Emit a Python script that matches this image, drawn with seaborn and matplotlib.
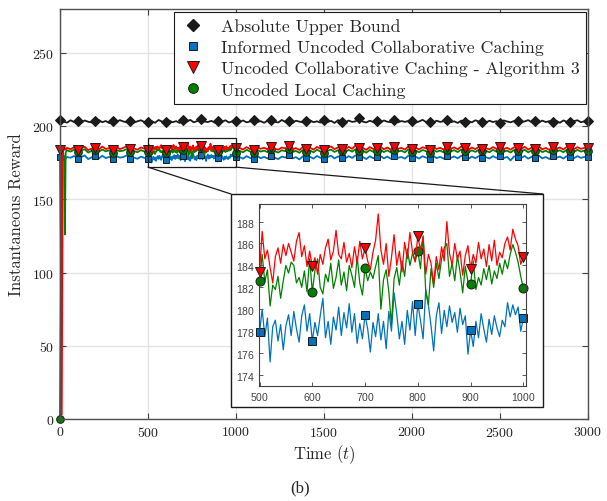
import numpy as np
import pandas as pd
import seaborn as sns
import matplotlib.pyplot as plt
from matplotlib.lines import Line2D
from matplotlib.patches import Rectangle, ConnectionPatch

# time grids (denser inside the zoomed window 500-1000)
t_head = [0, 5, 10, 16, 24, 28, 32, 40]
t_early = list(range(60, 481, 20))
t_zoom = list(range(500, 1001, 5))
t_late = list(range(1020, 3001, 20))
t_bound = list(range(0, 3001, 20))

labels = ['Absolute Upper Bound',
          'Informed Uncoded Collaborative Caching',
          'Uncoded Collaborative Caching - Algorithm 3',
          'Uncoded Local Caching']

# absolute upper bound, every 20 steps
bound = [204.5, 203.1, 202.4, 204.0, 202.8, 203.6, 202.2, 203.9, 203.0, 202.5,
         203.4, 204.2, 202.7, 203.5, 202.1, 203.8, 202.9, 204.1, 203.2, 202.6,
         203.7, 202.4, 203.3, 204.0, 202.8, 202.9, 203.5, 202.3, 204.2, 203.1,
         202.5, 203.8, 202.7, 203.4, 202.2, 203.9, 203.0, 204.3, 202.6, 203.5,
         204.6, 203.2, 202.8, 203.6, 202.4, 203.7, 202.9, 204.0, 202.5, 203.3,
         203.5, 202.7, 203.9, 202.6, 203.2, 204.1, 202.8, 203.4, 202.3, 203.8,
         203.9, 203.0, 202.5, 204.2, 202.9, 203.4, 202.1, 203.7, 203.1, 202.6,
         203.5, 204.0, 202.7, 203.3, 202.4, 203.9, 202.8, 203.6, 202.2, 204.1,
         203.0, 202.6, 203.8, 202.9, 203.3, 205.5, 203.1, 202.5, 203.7, 202.8,
         203.4, 202.3, 203.9, 203.0, 202.7, 204.2, 202.6, 203.5, 202.9, 203.6,
         203.8, 202.4, 203.2, 204.3, 202.8, 203.0, 202.5, 203.7, 202.9, 203.4,
         204.4, 202.7, 203.3, 202.2, 203.8, 202.9, 203.5, 202.6, 204.0, 203.1,
         203.0, 202.5, 203.7, 202.8, 203.4, 202.1, 203.9, 203.2, 202.6, 203.5,
         203.6, 202.9, 203.2, 204.1, 202.7, 203.3, 202.4, 203.8, 202.8, 203.4,
         202.9, 203.6, 202.3, 203.9, 203.0, 202.6, 203.5, 204.0, 202.7, 203.3,
         203.4]

# start-up transient
blue_head = [178.7, 178.0, 177.5, 179.0, 178.2, 179.5, 177.8, 178.9]
red_head = [183.4, 90.0, 3.0, 183.5, 183.8, 185.0, 184.0, 185.2]
green_head = [0.0, 118.0, 181.0, 183.0, 176.0, 126.0, 182.0, 183.5]

# 60..480
blue_early = [178.4, 179.6, 177.9, 178.9, 180.0, 177.5, 178.7, 179.3, 177.8, 179.8, 178.2,
              179.0, 177.4, 179.5, 178.5, 178.9, 180.1, 177.9, 178.6, 177.7, 179.2, 178.3]
red_early = [184.2, 185.6, 183.8, 184.9, 185.9, 183.6, 184.7, 185.3, 184.0, 186.1, 184.4,
             185.0, 183.7, 185.8, 184.3, 185.2, 186.3, 184.1, 184.8, 183.9, 185.5, 184.6]
green_early = [182.6, 183.9, 182.3, 183.4, 184.2, 182.0, 183.1, 183.8, 182.5, 184.0, 182.8,
               183.5, 181.9, 183.7, 182.9, 183.3, 184.4, 182.4, 183.0, 182.2, 183.6, 182.7]

# 500..1000 every 5 (zoomed window)
red_zoom = [183.4, 187.1, 184.6, 185.4, 183.8, 182.4, 184.8, 185.6, 184.2, 185.9,
            184.9, 186.0, 185.2, 184.4, 186.2, 187.0, 184.8, 185.8, 183.9, 185.3,
            183.9, 184.7, 183.2, 185.0, 184.1, 185.6, 186.4, 184.5, 185.3, 187.2,
            185.0, 184.6, 186.1, 184.3, 185.1, 183.8, 185.7, 184.2, 186.2, 184.6,
            185.6, 184.4, 183.6, 185.2, 186.3, 188.7, 185.4, 184.1, 186.0, 183.0,
            184.7, 186.8, 184.0, 185.3, 183.4, 186.1, 184.6, 187.0, 185.2, 184.3,
            186.7, 185.4, 186.6, 183.2, 185.0, 184.2, 182.3, 184.8, 183.6, 185.7,
            184.4, 188.0, 185.1, 184.0, 186.0, 184.6, 185.3, 183.1, 184.9, 185.8,
            183.7, 185.0, 184.2, 186.1, 184.6, 185.5, 183.9, 185.9, 184.4, 186.3,
            184.0, 185.2, 184.7, 186.0, 186.6, 185.4, 187.3, 186.4, 185.8, 184.1,
            184.8]
green_zoom = [182.6, 185.0, 182.5, 183.6, 180.3, 182.2, 181.8, 183.0, 181.0, 182.6,
              184.0, 183.3, 184.3, 184.0, 182.4, 182.9, 182.0, 183.5, 181.6, 184.6,
              181.6, 183.5, 184.6, 182.0, 181.4, 183.2, 182.5, 184.2, 181.9, 182.9,
              184.5, 182.2, 183.4, 181.7, 184.0, 183.1, 182.0, 184.8, 182.4, 181.3,
              183.8, 182.6, 183.4, 182.8, 183.9, 184.9, 180.0, 182.7, 183.6, 181.6,
              178.6, 182.8, 183.8, 182.2, 184.4, 183.0, 185.5, 184.0, 185.1, 184.4,
              185.3, 183.7, 186.7, 181.6, 180.4, 183.7, 182.0, 184.2, 182.8, 184.6,
              185.6, 186.0, 183.0, 184.2, 182.6, 184.9, 183.4, 181.5, 183.9, 182.5,
              182.3, 184.4, 181.8, 182.9, 182.2, 183.7, 182.7, 184.0, 182.3, 183.5,
              182.8, 184.2, 183.2, 184.5, 183.7, 185.0, 185.9, 185.2, 184.3, 183.0,
              181.9]
blue_zoom = [177.9, 180.0, 177.5, 179.2, 175.2, 178.4, 179.0, 177.1, 178.6, 176.3,
             178.5, 179.5, 177.6, 179.8, 178.2, 177.0, 179.4, 180.4, 178.0, 179.6,
             177.1, 178.8, 177.6, 179.4, 181.0, 177.4, 178.9, 176.8, 179.3, 178.1,
             180.2, 177.6, 179.7, 178.3, 180.5, 177.9, 179.6, 176.9, 178.7, 177.3,
             179.5, 178.2, 176.1, 178.8, 177.5, 179.6, 177.2, 178.9, 176.4, 179.8,
             178.0, 181.5, 179.6, 177.3, 178.9, 176.8, 179.9, 178.1, 180.7, 177.6,
             180.5, 179.0, 177.3, 181.8, 180.4, 178.5, 176.2, 179.4, 180.6, 177.8,
             179.9, 178.4, 180.3, 178.8, 179.7, 177.9, 180.1, 178.6, 179.4, 175.9,
             178.1, 176.6, 178.9, 177.4, 179.6, 178.2, 177.0, 179.1, 177.7, 179.4,
             178.3, 177.5, 179.0, 178.4, 180.6, 179.3, 180.4, 179.5, 180.2, 178.0,
             179.2]

# 1020..3000 every 20
red_late = [185.1, 184.0, 185.7, 184.3, 183.8, 185.9, 184.5, 185.2, 184.1, 186.0,
            184.6, 183.9, 185.4, 184.8, 186.2, 184.2, 185.0, 183.7, 185.6, 184.4,
            185.3, 184.0, 185.8, 184.6, 183.9, 185.1, 186.1, 184.3, 185.5, 184.7,
            184.1, 185.9, 184.5, 186.9, 184.8, 185.2, 183.8, 185.7, 184.4, 185.0,
            186.0, 184.2, 185.4, 183.9, 185.8, 184.6, 185.1, 184.0, 186.2, 184.5,
            185.3, 184.1, 185.6, 184.8, 183.7, 185.9, 184.4, 185.2, 184.0, 185.7,
            184.6, 185.5, 184.2, 186.1, 184.9, 183.8, 185.4, 184.3, 185.8, 184.7,
            185.0, 184.1, 185.7, 184.5, 186.0, 184.3, 185.2, 183.9, 185.6, 184.8,
            184.4, 185.9, 184.0, 185.3, 184.7, 186.2, 184.2, 185.1, 183.8, 185.5,
            184.6, 185.4, 184.1, 185.8, 184.9, 184.3, 185.7, 184.5, 185.2, 184.8]
green_late = [183.2, 182.1, 183.8, 182.7, 181.9, 183.9, 182.6, 183.3, 182.2, 184.1,
              182.8, 182.0, 183.5, 182.9, 184.2, 182.3, 183.1, 181.8, 183.7, 182.5,
              183.4, 182.1, 183.9, 182.7, 182.0, 183.2, 184.0, 182.4, 183.6, 182.8,
              182.2, 183.8, 182.6, 184.3, 182.9, 183.3, 181.9, 183.7, 182.5, 183.1,
              184.0, 182.3, 183.5, 182.0, 183.9, 182.7, 183.2, 182.1, 184.2, 182.6,
              183.4, 182.2, 183.7, 182.9, 181.8, 184.0, 182.5, 183.3, 182.1, 183.8,
              182.7, 183.6, 182.3, 184.1, 183.0, 181.9, 183.5, 182.4, 183.9, 182.8,
              183.1, 182.2, 183.8, 182.6, 184.0, 182.4, 183.3, 182.0, 183.7, 182.9,
              182.5, 183.9, 182.1, 183.4, 182.8, 184.2, 182.3, 183.2, 181.9, 183.6,
              182.7, 183.5, 182.2, 183.9, 183.0, 182.4, 183.8, 182.6, 183.3, 182.9]
blue_late = [178.9, 177.8, 179.5, 178.3, 177.6, 179.7, 178.1, 179.0, 177.9, 179.9,
             178.4, 177.5, 179.2, 178.6, 180.0, 178.0, 178.8, 177.3, 179.4, 178.2,
             179.1, 177.8, 179.6, 178.4, 177.6, 178.9, 179.8, 178.0, 179.3, 178.5,
             177.9, 179.5, 178.3, 180.1, 178.6, 179.0, 177.5, 179.4, 178.1, 178.8,
             179.7, 178.0, 179.2, 177.7, 179.6, 178.4, 178.9, 177.8, 179.9, 178.3,
             179.1, 177.9, 179.4, 178.6, 177.4, 179.7, 178.2, 179.0, 177.8, 179.5,
             178.4, 179.3, 178.0, 179.8, 178.7, 177.6, 179.2, 178.1, 179.6, 178.5,
             178.8, 177.9, 179.5, 178.3, 179.7, 178.1, 179.0, 176.6, 179.4, 178.6,
             178.2, 179.6, 177.8, 179.1, 178.5, 179.9, 178.0, 178.9, 177.6, 179.3,
             178.4, 179.2, 177.9, 179.6, 178.7, 178.1, 179.5, 178.3, 179.0, 178.6]

sns.set_theme(style='whitegrid')
plt.rcParams['font.family'] = 'cmr10'
plt.rcParams['mathtext.fontset'] = 'cm'
plt.rcParams['axes.formatter.use_mathtext'] = True

df = pd.DataFrame({
    't': t_head + t_early + t_zoom + t_late,
    'informed': blue_head + blue_early + blue_zoom + blue_late,
    'local': green_head + green_early + green_zoom + green_late,
    'algo3': red_head + red_early + red_zoom + red_late,
})
bdf = pd.DataFrame({'t': t_bound, 'bound': bound})

BLUE, RED, GREEN = '#0072BD', '#FF0000', '#008000'
# colour, marker, size on main axes, size in inset
styles = {
    'informed': (BLUE, 's', 5, 6),
    'local': (GREEN, 'o', 5.5, 6.5),
    'algo3': (RED, 'v', 6.5, 7.5),
}

fig = plt.figure(figsize=(6.07, 5.02), dpi=100)
ax = fig.add_axes([60 / 607, 1 - 420 / 502, 528 / 607, 410 / 502])

sns.lineplot(data=bdf, x='t', y='bound', ax=ax, color='k', lw=1.3, marker='D', ms=5,
             mec='k', mfc='k', markevery=list(bdf['t'] % 100 == 0),
             estimator=None, errorbar=None, clip_on=False)
for col in ['informed', 'local', 'algo3']:
    c, m, ms, _ = styles[col]
    sns.lineplot(data=df, x='t', y=col, ax=ax, color=c, lw=1.3, marker=m, ms=ms,
                 mec='k', mew=0.7, mfc=c, markevery=list(df['t'] % 100 == 0),
                 estimator=None, errorbar=None, clip_on=False)

ax.set_xlim(0, 3000)
ax.set_ylim(0, 280)
ax.set_xticks(range(0, 3001, 500))
ax.set_yticks(range(0, 251, 50))
ax.set_xlabel('Time ($t$)', fontsize=12, labelpad=3)
ax.set_ylabel('Instantaneous Reward', fontsize=12, labelpad=6)
ax.grid(True, color='#e3e3e3', lw=1)
ax.tick_params(direction='in', top=True, right=True, bottom=True, left=True,
               length=4, width=0.8, color='#404040', labelsize=10, pad=4,
               labelcolor='#222222')
for s in ax.spines.values():
    s.set_color('#505050')
    s.set_linewidth(1.0)

# zoom window on the main axes
ax.add_patch(Rectangle((500, 172), 500, 20, fill=False, ec='k', lw=0.9, zorder=6))

# legend with markers only
handles = [
    Line2D([], [], ls='none', marker='D', ms=6.5, color='k', mec='k'),
    Line2D([], [], ls='none', marker='s', ms=6, color=BLUE, mec='k', mew=0.7),
    Line2D([], [], ls='none', marker='v', ms=8, color=RED, mec='k', mew=0.7),
    Line2D([], [], ls='none', marker='o', ms=7, color=GREEN, mec='k', mew=0.7),
]
leg = ax.legend(handles, labels, loc='upper right', bbox_to_anchor=(586 / 607, 1 - 13 / 502),
                bbox_transform=fig.transFigure, fontsize=12.8, frameon=True, fancybox=False,
                framealpha=1, edgecolor='k', borderaxespad=0, borderpad=0.35,
                labelspacing=0.3, handletextpad=0.8, handlelength=1.5)
leg.get_frame().set_linewidth(0.8)

# inset panel
bx, by, bw, bh = 231 / 607, 1 - 408 / 502, 312 / 607, 213 / 502
fig.add_artist(Rectangle((bx, by), bw, bh, transform=fig.transFigure,
                         fc='white', ec='k', lw=1.0, zorder=2))
for xa, xb in [(500, bx), (1000, bx + bw)]:
    con = ConnectionPatch(xyA=(xa, 172), coordsA=ax.transData,
                          xyB=(xb, by + bh), coordsB=fig.transFigure,
                          color='k', lw=0.9, zorder=2)
    fig.add_artist(con)

ins = fig.add_axes([259 / 607, 1 - 387 / 502, 267 / 607, 182 / 502], zorder=3)
ins.set_facecolor('white')
zdf = df[(df['t'] >= 500) & (df['t'] <= 1000)]
for col in ['informed', 'local', 'algo3']:
    c, m, _, ms = styles[col]
    sns.lineplot(data=zdf, x='t', y=col, ax=ins, color=c, lw=0.9, marker=m, ms=ms,
                 mec='k', mew=0.7, mfc=c, markevery=list(zdf['t'] % 100 == 0),
                 estimator=None, errorbar=None, clip_on=False)
ins.set_xlim(499, 1005)
ins.set_ylim(173, 189.6)
ins.set_xticks(range(500, 1001, 100))
ins.set_yticks(range(174, 189, 2))
ins.set_xlabel('')
ins.set_ylabel('')
ins.grid(False)
ins.tick_params(direction='in', top=True, right=True, bottom=True, left=True,
                length=3, width=0.6, color='#404040', labelsize=7.5, pad=3,
                labelcolor='#404040')
for lab in ins.get_xticklabels() + ins.get_yticklabels():
    lab.set_fontfamily('Liberation Sans')
for s in ins.spines.values():
    s.set_color('#404040')
    s.set_linewidth(0.8)

fig.text(300 / 607, 1 - 488 / 502, '(b)', ha='center', va='center',
         fontsize=12, family='Liberation Serif')

fig.savefig('out.png', dpi=100)
